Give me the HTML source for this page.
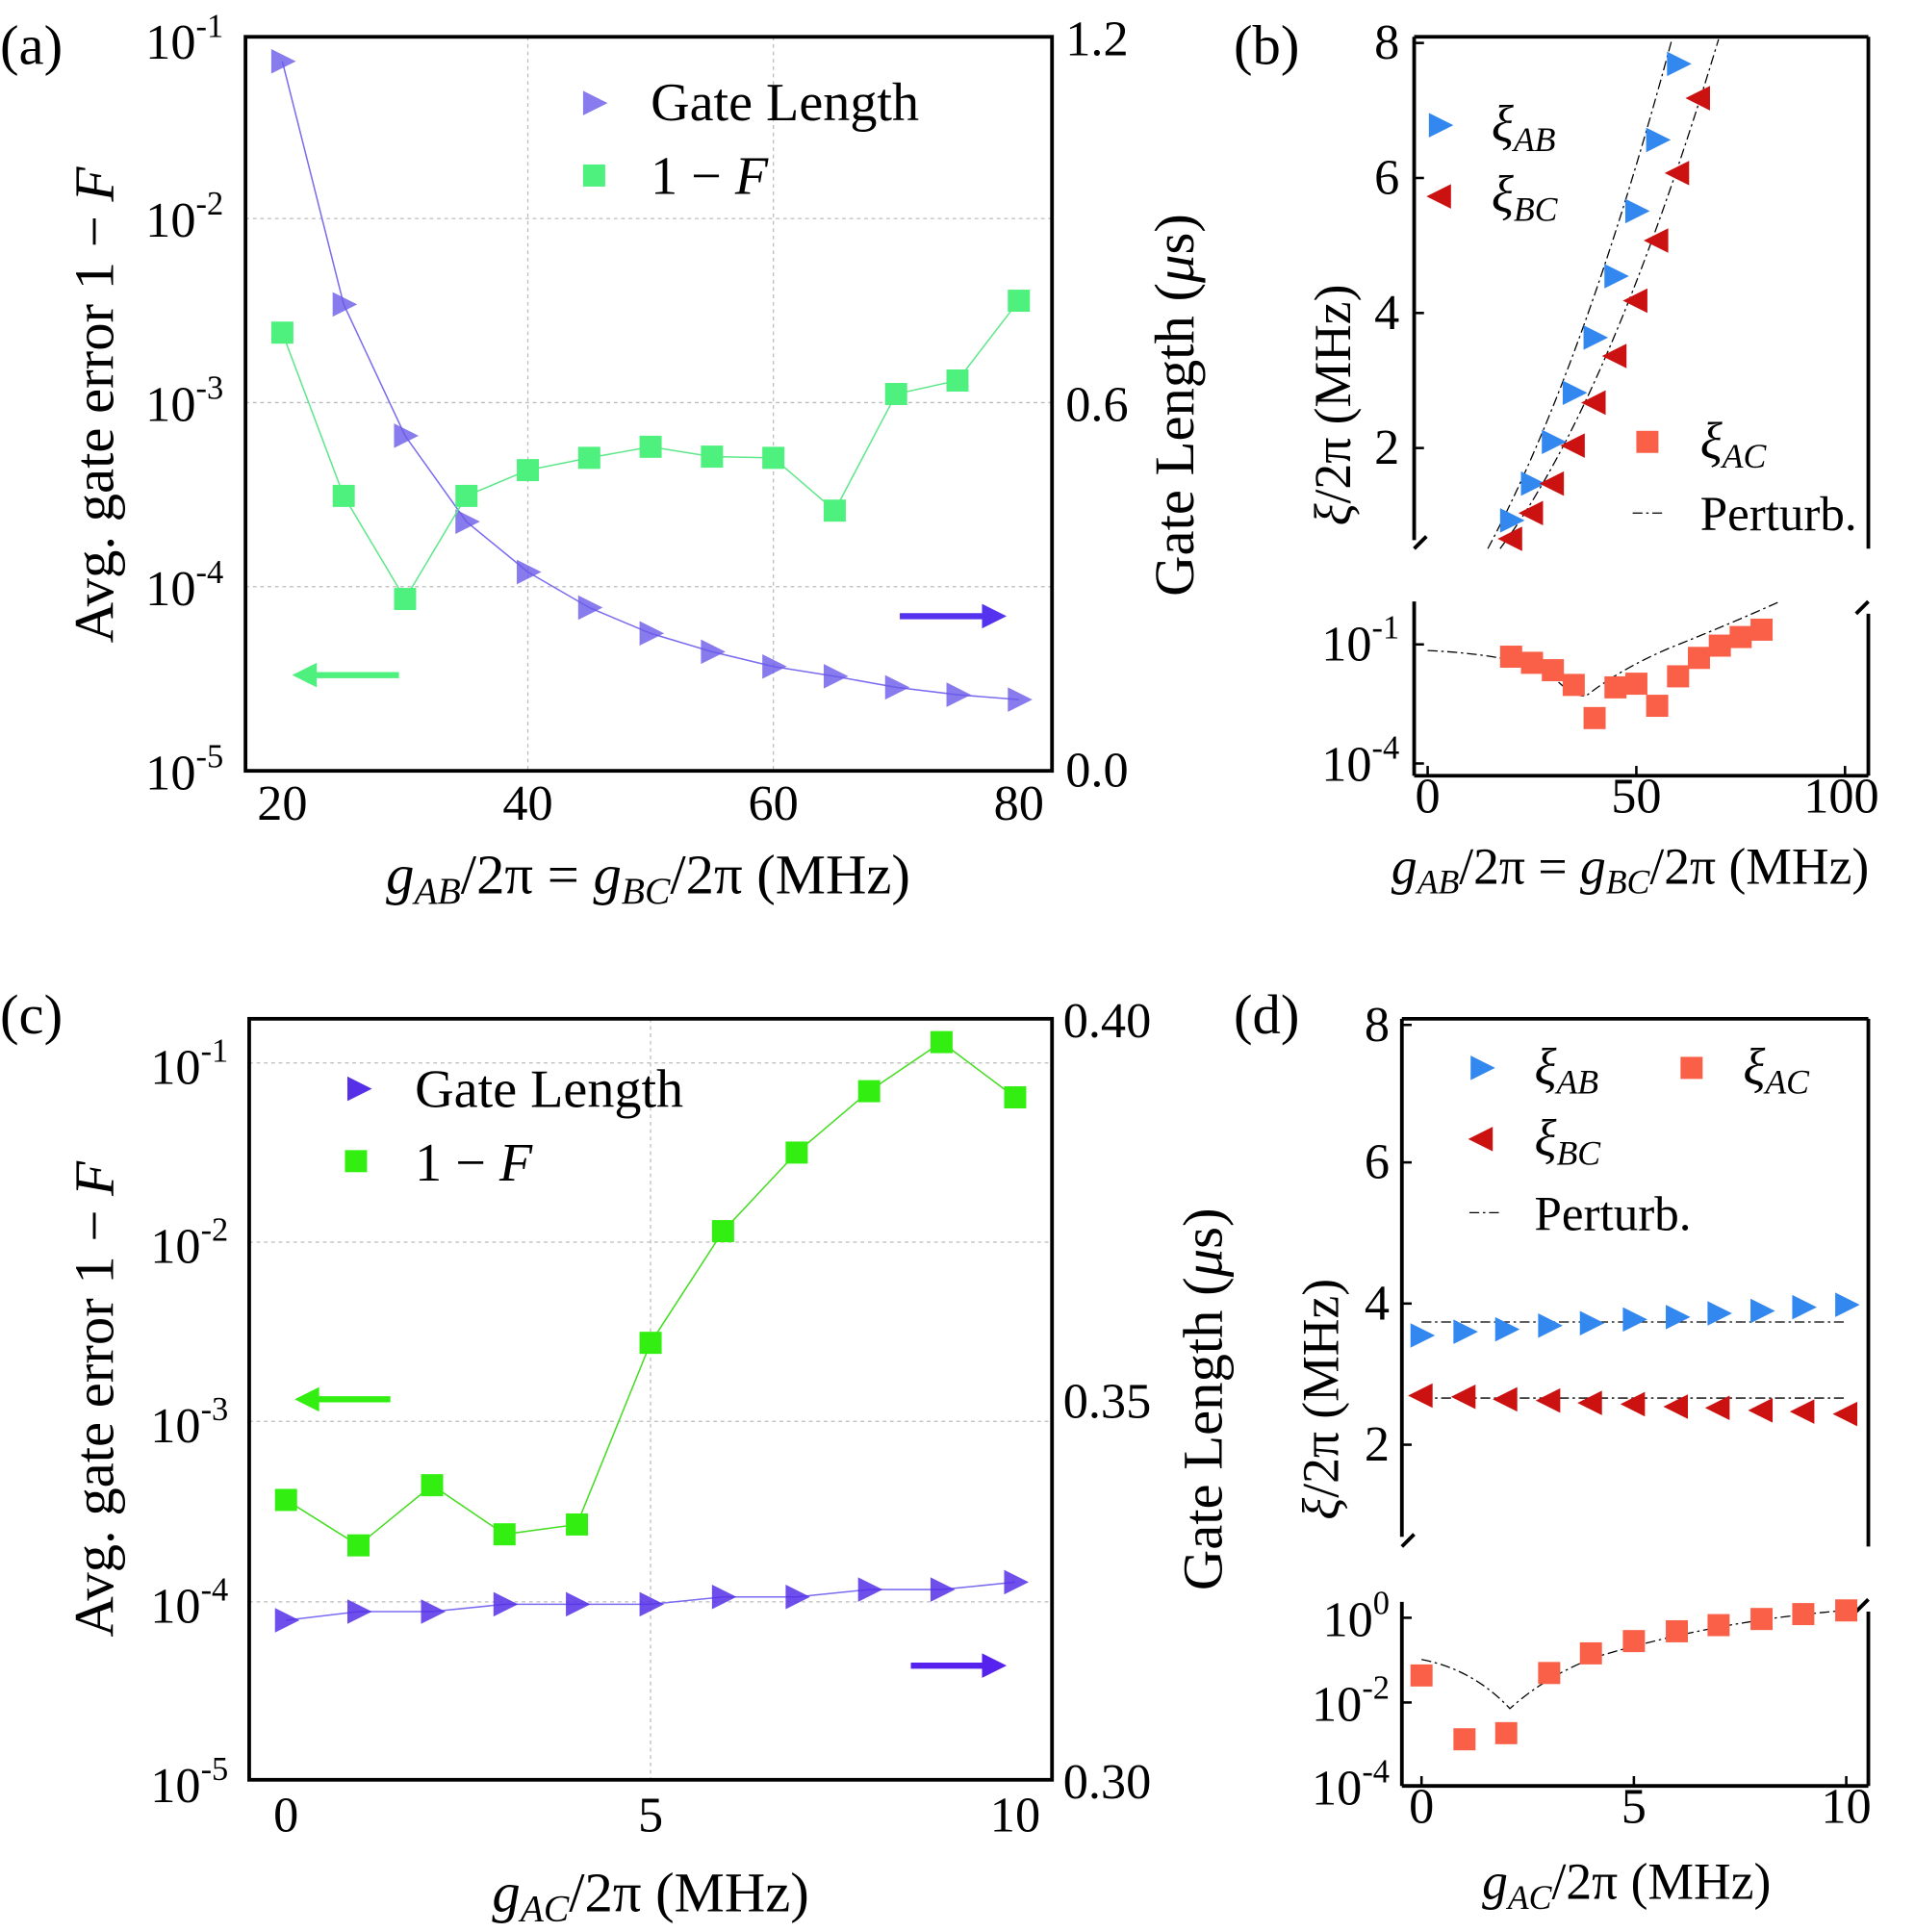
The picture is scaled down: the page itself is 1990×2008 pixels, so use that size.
<!DOCTYPE html>
<html><head><meta charset="utf-8"><style>html,body{margin:0;padding:0;background:#fff}svg{display:block}</style></head><body>
<svg width="1990" height="2008" viewBox="0 0 1560 1574" preserveAspectRatio="none" xmlns="http://www.w3.org/2000/svg" font-family="'Liberation Serif', serif">
<defs>
<path id="tr" d="M-9,-10 L11,0 L-9,10 Z"/>
<path id="tl" d="M9,-10 L-11,0 L9,10 Z"/>
<rect id="sq" x="-9" y="-9" width="18" height="18"/>
</defs>
<g stroke="#bbb" stroke-width="1" stroke-dasharray="3,3">
<line x1="200" y1="178" x2="857" y2="178"/><line x1="200" y1="328" x2="857" y2="328"/><line x1="200" y1="478" x2="857" y2="478"/>
<line x1="430" y1="30" x2="430" y2="628"/><line x1="630" y1="30" x2="630" y2="628"/>
<line x1="203" y1="866" x2="857" y2="866"/><line x1="203" y1="1012" x2="857" y2="1012"/><line x1="203" y1="1158" x2="857" y2="1158"/><line x1="203" y1="1305" x2="857" y2="1305"/>
<line x1="530" y1="830" x2="530" y2="1450"/>
</g>
<!-- Panel a -->
<rect x="200" y="30" width="657" height="598" fill="none" stroke="#000" stroke-width="3"/>
<g font-size="41" text-anchor="end">
<text x="182" y="48">10<tspan dy="-18" font-size="27">-1</tspan></text>
<text x="182" y="193">10<tspan dy="-18" font-size="27">-2</tspan></text>
<text x="182" y="343">10<tspan dy="-18" font-size="27">-3</tspan></text>
<text x="182" y="493">10<tspan dy="-18" font-size="27">-4</tspan></text>
<text x="182" y="643">10<tspan dy="-18" font-size="27">-5</tspan></text>
</g>
<g font-size="41"><text x="868" y="45">1.2</text><text x="868" y="343">0.6</text><text x="868" y="641">0.0</text></g>
<g font-size="41" text-anchor="middle"><text x="230" y="668">20</text><text x="430" y="668">40</text><text x="630" y="668">60</text><text x="830" y="668">80</text></g>
<text x="528" y="728" font-size="46" text-anchor="middle"><tspan font-style="italic">g<tspan font-size="31" dy="8">AB</tspan></tspan><tspan dy="-8">/2π = </tspan><tspan font-style="italic">g<tspan font-size="31" dy="8">BC</tspan></tspan><tspan dy="-8">/2π (MHz)</tspan></text>
<text transform="translate(92,330) rotate(-90)" font-size="46" text-anchor="middle">Avg. gate error 1 − <tspan font-style="italic">F</tspan></text>
<text transform="translate(972,330) rotate(-90)" font-size="46" text-anchor="middle">Gate Length (<tspan font-style="italic">μ</tspan>s)</text>
<text x="0" y="52" font-size="46">(a)</text>
<polyline fill="none" stroke="#7a6cf0" stroke-width="1.2" points="230,50 280,248 330,355 380,425 430,466 480,495 530,516 580,531 630,543 680,551 730,560 780,566 830,570"/>
<g fill="#6a5ae8" fill-opacity="0.8"><use href="#tr" x="230" y="50"/><use href="#tr" x="280" y="248"/><use href="#tr" x="330" y="355"/><use href="#tr" x="380" y="425"/><use href="#tr" x="430" y="466"/><use href="#tr" x="480" y="495"/><use href="#tr" x="530" y="516"/><use href="#tr" x="580" y="531"/><use href="#tr" x="630" y="543"/><use href="#tr" x="680" y="551"/><use href="#tr" x="730" y="560"/><use href="#tr" x="780" y="566"/><use href="#tr" x="830" y="570"/></g>
<polyline fill="none" stroke="#5ee88a" stroke-width="1.2" points="230,271 280,404 330,488 380,404 430,383 480,373 530,364 580,372 630,373 680,416 730,321 780,310 830,245"/>
<g fill="#4ef07e"><use href="#sq" x="230" y="271"/><use href="#sq" x="280" y="404"/><use href="#sq" x="330" y="488"/><use href="#sq" x="380" y="404"/><use href="#sq" x="430" y="383"/><use href="#sq" x="480" y="373"/><use href="#sq" x="530" y="364"/><use href="#sq" x="580" y="372"/><use href="#sq" x="630" y="373"/><use href="#sq" x="680" y="416"/><use href="#sq" x="730" y="321"/><use href="#sq" x="780" y="310"/><use href="#sq" x="830" y="245"/></g>
<use href="#tr" x="484" y="84" fill="#6a5ae8" fill-opacity="0.8"/><text x="530" y="98" font-size="44">Gate Length</text>
<use href="#sq" x="484" y="143" fill="#4ef07e"/><text x="530" y="158" font-size="44">1 − <tspan font-style="italic">F</tspan></text>
<line x1="250" y1="550" x2="325" y2="550" stroke="#4ef07e" stroke-width="5"/><path d="M238,550 L258,540 L258,560 Z" fill="#4ef07e"/>
<line x1="733" y1="502" x2="808" y2="502" stroke="#5533ee" stroke-width="5"/><path d="M820,502 L800,492 L800,512 Z" fill="#5533ee"/>
<!-- Panel b -->
<text x="1005" y="52" font-size="46">(b)</text>
<g stroke="#000" stroke-width="3" fill="none">
<line x1="1152" y1="30" x2="1522" y2="30"/><line x1="1152" y1="30" x2="1152" y2="440"/><line x1="1522" y1="30" x2="1522" y2="447"/>
<line x1="1152" y1="447" x2="1162" y2="437"/>
<line x1="1152" y1="632" x2="1522" y2="632"/><line x1="1152" y1="632" x2="1152" y2="490"/><line x1="1522" y1="632" x2="1522" y2="500"/>
<line x1="1512" y1="500" x2="1522" y2="490"/>
</g>
<g stroke="#000" stroke-width="2"><line x1="1152" y1="35" x2="1160" y2="35"/><line x1="1152" y1="145" x2="1160" y2="145"/><line x1="1152" y1="255" x2="1160" y2="255"/><line x1="1152" y1="365" x2="1160" y2="365"/>
<line x1="1152" y1="525" x2="1160" y2="525"/><line x1="1152" y1="622" x2="1160" y2="622"/>
<line x1="1163" y1="632" x2="1163" y2="624"/><line x1="1333" y1="632" x2="1333" y2="624"/><line x1="1503" y1="632" x2="1503" y2="624"/></g>
<g font-size="41" text-anchor="end"><text x="1140" y="48">8</text><text x="1140" y="158">6</text><text x="1140" y="268">4</text><text x="1140" y="378">2</text>
<text x="1140" y="538">10<tspan dy="-18" font-size="27">-1</tspan></text><text x="1140" y="636">10<tspan dy="-18" font-size="27">-4</tspan></text></g>
<g font-size="41" text-anchor="middle"><text x="1163" y="662">0</text><text x="1333" y="662">50</text><text x="1500" y="662">100</text></g>
<text x="1328" y="720" font-size="42" text-anchor="middle"><tspan font-style="italic">g<tspan font-size="28" dy="8">AB</tspan></tspan><tspan dy="-8">/2π = </tspan><tspan font-style="italic">g<tspan font-size="28" dy="8">BC</tspan></tspan><tspan dy="-8">/2π (MHz)</tspan></text>
<text transform="translate(1100,330) rotate(-90)" font-size="42" text-anchor="middle"><tspan font-style="italic">ξ</tspan>/2π (MHz)</text>
<g fill="none" stroke="#000" stroke-width="1" stroke-dasharray="8,3,2,3">
<path d="M1212,447 Q1290,300 1362,32"/><path d="M1222,447 Q1310,330 1400,32"/>
<path d="M1163,530 Q1230,533 1262,548 Q1280,568 1292,567 Q1320,545 1360,528 Q1410,508 1450,490"/>
</g>
<g fill="#3388f0"><use href="#tr" x="1231" y="424"/><use href="#tr" x="1248" y="394"/><use href="#tr" x="1265" y="360"/><use href="#tr" x="1282" y="320"/><use href="#tr" x="1299" y="275"/><use href="#tr" x="1316" y="225"/><use href="#tr" x="1333" y="172"/><use href="#tr" x="1350" y="114"/><use href="#tr" x="1367" y="52"/><use href="#tr" x="1173" y="102"/></g>
<g fill="#cc1111"><use href="#tl" x="1231" y="439"/><use href="#tl" x="1248" y="418"/><use href="#tl" x="1265" y="394"/><use href="#tl" x="1282" y="363"/><use href="#tl" x="1299" y="328"/><use href="#tl" x="1316" y="290"/><use href="#tl" x="1333" y="245"/><use href="#tl" x="1350" y="196"/><use href="#tl" x="1367" y="141"/><use href="#tl" x="1384" y="80"/><use href="#tl" x="1173" y="160"/></g>
<g fill="#fa6048"><use href="#sq" x="1231" y="535"/><use href="#sq" x="1248" y="540"/><use href="#sq" x="1265" y="546"/><use href="#sq" x="1282" y="558"/><use href="#sq" x="1299" y="585"/><use href="#sq" x="1316" y="560"/><use href="#sq" x="1333" y="557"/><use href="#sq" x="1350" y="575"/><use href="#sq" x="1367" y="551"/><use href="#sq" x="1384" y="536"/><use href="#sq" x="1401" y="526"/><use href="#sq" x="1418" y="519"/><use href="#sq" x="1435" y="513"/><use href="#sq" x="1342" y="360"/></g>
<g font-size="42" font-style="italic"><text x="1215" y="115">ξ<tspan font-size="28" dy="8">AB</tspan></text><text x="1215" y="172">ξ<tspan font-size="28" dy="8">BC</tspan></text><text x="1385" y="373">ξ<tspan font-size="28" dy="8">AC</tspan></text></g>
<line x1="1330" y1="418" x2="1355" y2="418" stroke="#000" stroke-dasharray="8,3,2,3"/><text x="1385" y="432" font-size="40">Perturb.</text>
<!-- Panel c -->
<text x="0" y="842" font-size="46">(c)</text>
<rect x="203" y="830" width="654" height="620" fill="none" stroke="#000" stroke-width="3"/>
<g font-size="41" text-anchor="end">
<text x="186" y="883">10<tspan dy="-18" font-size="27">-1</tspan></text>
<text x="186" y="1029">10<tspan dy="-18" font-size="27">-2</tspan></text>
<text x="186" y="1175">10<tspan dy="-18" font-size="27">-3</tspan></text>
<text x="186" y="1322">10<tspan dy="-18" font-size="27">-4</tspan></text>
<text x="186" y="1468">10<tspan dy="-18" font-size="27">-5</tspan></text>
</g>
<g font-size="41"><text x="866" y="845">0.40</text><text x="866" y="1155">0.35</text><text x="866" y="1465">0.30</text></g>
<g font-size="41" text-anchor="middle"><text x="233" y="1492">0</text><text x="530" y="1492">5</text><text x="827" y="1492">10</text></g>
<text x="530" y="1557" font-size="46" text-anchor="middle"><tspan font-style="italic">g<tspan font-size="31" dy="8">AC</tspan></tspan><tspan dy="-8">/2π (MHz)</tspan></text>
<text transform="translate(92,1140) rotate(-90)" font-size="46" text-anchor="middle">Avg. gate error 1 − <tspan font-style="italic">F</tspan></text>
<text transform="translate(995,1140) rotate(-90)" font-size="46" text-anchor="middle">Gate Length (<tspan font-style="italic">μ</tspan>s)</text>
<polyline fill="none" stroke="#7a6cf0" stroke-width="1.2" points="233,1320 292,1313 352,1313 411,1307 470,1307 530,1307 589,1301 649,1301 708,1295 767,1295 827,1289"/>
<g fill="#5530e8" fill-opacity="0.85"><use href="#tr" x="233" y="1320"/><use href="#tr" x="292" y="1313"/><use href="#tr" x="352" y="1313"/><use href="#tr" x="411" y="1307"/><use href="#tr" x="470" y="1307"/><use href="#tr" x="530" y="1307"/><use href="#tr" x="589" y="1301"/><use href="#tr" x="649" y="1301"/><use href="#tr" x="708" y="1295"/><use href="#tr" x="767" y="1295"/><use href="#tr" x="827" y="1289"/></g>
<polyline fill="none" stroke="#44dd22" stroke-width="1.2" points="233,1222 292,1259 352,1210 411,1250 470,1242 530,1094 589,1003 649,939 708,889 767,849 827,894"/>
<g fill="#33ee11"><use href="#sq" x="233" y="1222"/><use href="#sq" x="292" y="1259"/><use href="#sq" x="352" y="1210"/><use href="#sq" x="411" y="1250"/><use href="#sq" x="470" y="1242"/><use href="#sq" x="530" y="1094"/><use href="#sq" x="589" y="1003"/><use href="#sq" x="649" y="939"/><use href="#sq" x="708" y="889"/><use href="#sq" x="767" y="849"/><use href="#sq" x="827" y="894"/></g>
<use href="#tr" x="292" y="887" fill="#5530e8"/><text x="338" y="902" font-size="44">Gate Length</text>
<use href="#sq" x="290" y="946" fill="#33ee11"/><text x="338" y="962" font-size="44">1 − <tspan font-style="italic">F</tspan></text>
<line x1="252" y1="1140" x2="318" y2="1140" stroke="#33ee11" stroke-width="5"/><path d="M240,1140 L260,1130 L260,1150 Z" fill="#33ee11"/>
<line x1="742" y1="1357" x2="808" y2="1357" stroke="#5522ee" stroke-width="5"/><path d="M820,1357 L800,1347 L800,1367 Z" fill="#5522ee"/>
<!-- Panel d -->
<text x="1005" y="842" font-size="46">(d)</text>
<g stroke="#000" stroke-width="3" fill="none">
<line x1="1142" y1="830" x2="1522" y2="830"/><line x1="1142" y1="830" x2="1142" y2="1252"/><line x1="1522" y1="830" x2="1522" y2="1260"/>
<line x1="1142" y1="1260" x2="1152" y2="1250"/>
<line x1="1142" y1="1455" x2="1522" y2="1455"/><line x1="1142" y1="1455" x2="1142" y2="1305"/><line x1="1522" y1="1455" x2="1522" y2="1313"/>
<line x1="1512" y1="1313" x2="1522" y2="1303"/>
</g>
<g stroke="#000" stroke-width="2"><line x1="1142" y1="835" x2="1150" y2="835"/><line x1="1142" y1="947" x2="1150" y2="947"/><line x1="1142" y1="1062" x2="1150" y2="1062"/><line x1="1142" y1="1177" x2="1150" y2="1177"/>
<line x1="1142" y1="1318" x2="1150" y2="1318"/><line x1="1142" y1="1387" x2="1150" y2="1387"/>
<line x1="1158" y1="1455" x2="1158" y2="1447"/><line x1="1331" y1="1455" x2="1331" y2="1447"/><line x1="1504" y1="1455" x2="1504" y2="1447"/></g>
<g font-size="41" text-anchor="end"><text x="1132" y="848">8</text><text x="1132" y="960">6</text><text x="1132" y="1075">4</text><text x="1132" y="1190">2</text>
<text x="1132" y="1333">10<tspan dy="-18" font-size="27">0</tspan></text><text x="1132" y="1402">10<tspan dy="-18" font-size="27">-2</tspan></text><text x="1132" y="1470">10<tspan dy="-18" font-size="27">-4</tspan></text></g>
<g font-size="41" text-anchor="middle"><text x="1158" y="1485">0</text><text x="1331" y="1485">5</text><text x="1504" y="1485">10</text></g>
<text x="1325" y="1547" font-size="42" text-anchor="middle"><tspan font-style="italic">g<tspan font-size="28" dy="8">AC</tspan></tspan><tspan dy="-8">/2π (MHz)</tspan></text>
<text transform="translate(1090,1140) rotate(-90)" font-size="42" text-anchor="middle"><tspan font-style="italic">ξ</tspan>/2π (MHz)</text>
<g fill="none" stroke="#000" stroke-width="1" stroke-dasharray="8,3,2,3">
<line x1="1158" y1="1077" x2="1504" y2="1077"/><line x1="1158" y1="1139" x2="1504" y2="1139"/>
<path d="M1158,1352 Q1200,1360 1230,1392 Q1260,1365 1300,1350 Q1400,1320 1504,1312"/>
</g>
<g fill="#3388f0"><use href="#tr" x="1158" y="1088"/><use href="#tr" x="1193" y="1085"/><use href="#tr" x="1227" y="1083"/><use href="#tr" x="1262" y="1080"/><use href="#tr" x="1296" y="1078"/><use href="#tr" x="1331" y="1075"/><use href="#tr" x="1366" y="1073"/><use href="#tr" x="1400" y="1070"/><use href="#tr" x="1435" y="1068"/><use href="#tr" x="1469" y="1065"/><use href="#tr" x="1504" y="1063"/><use href="#tr" x="1207" y="870"/></g>
<g fill="#cc1111"><use href="#tl" x="1158" y="1137"/><use href="#tl" x="1193" y="1138"/><use href="#tl" x="1227" y="1140"/><use href="#tl" x="1262" y="1141"/><use href="#tl" x="1296" y="1143"/><use href="#tl" x="1331" y="1144"/><use href="#tl" x="1366" y="1146"/><use href="#tl" x="1400" y="1147"/><use href="#tl" x="1435" y="1149"/><use href="#tl" x="1469" y="1150"/><use href="#tl" x="1504" y="1152"/><use href="#tl" x="1207" y="928"/></g>
<g fill="#fa6048"><use href="#sq" x="1158" y="1365"/><use href="#sq" x="1193" y="1417"/><use href="#sq" x="1227" y="1412"/><use href="#sq" x="1262" y="1363"/><use href="#sq" x="1296" y="1347"/><use href="#sq" x="1331" y="1337"/><use href="#sq" x="1366" y="1329"/><use href="#sq" x="1400" y="1324"/><use href="#sq" x="1435" y="1319"/><use href="#sq" x="1469" y="1315"/><use href="#sq" x="1504" y="1312"/><use href="#sq" x="1378" y="870"/></g>
<g font-size="42" font-style="italic"><text x="1250" y="883">ξ<tspan font-size="28" dy="8">AB</tspan></text><text x="1420" y="883">ξ<tspan font-size="28" dy="8">AC</tspan></text><text x="1250" y="941">ξ<tspan font-size="28" dy="8">BC</tspan></text></g>
<line x1="1197" y1="988" x2="1222" y2="988" stroke="#000" stroke-dasharray="8,3,2,3"/><text x="1250" y="1002" font-size="40">Perturb.</text>
</svg>
</body></html>
